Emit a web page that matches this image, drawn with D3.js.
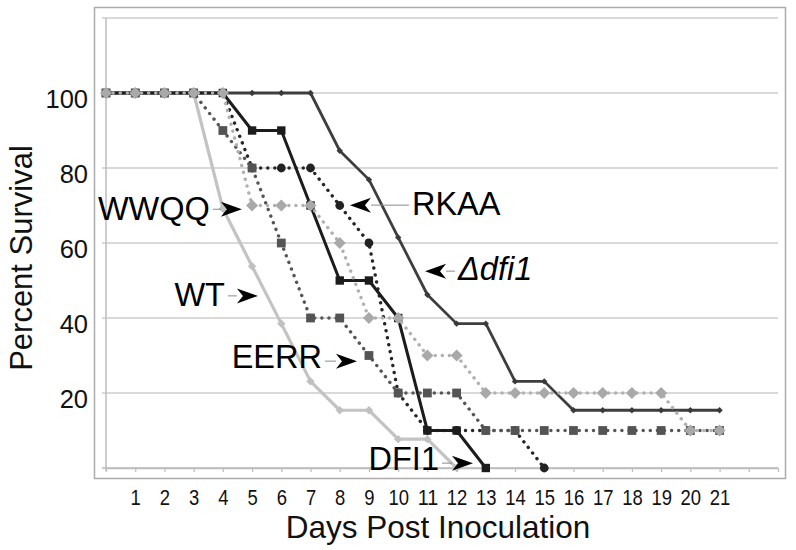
<!DOCTYPE html>
<html><head><meta charset="utf-8">
<script src="https://cdn.jsdelivr.net/npm/d3@7"></script>
<style>body{margin:0;background:#fff}svg{display:block}text{font-family:"Liberation Sans",Arial,sans-serif}</style>
</head><body><svg id="c" width="796" height="550"></svg>
<script>
// ---- data ----
const days = d3.range(0, 22);
const xTickLabels = ["1","2","3","4","5","6","7","8","9","10","11","12","13","14","15","16","17","18","19","20","21"];
const yTickValues = [20, 40, 60, 80, 100];
const gridValues = [0, 20, 40, 60, 80, 100, 120];
const wtValues   = [100,100,100,100,69.2,53.8,38.5,23.1,15.4,15.4,7.7,7.7,0];
const dfi1Delta  = [100,100,100,100,100,100,100,100,84.6,76.9,61.5,46.2,38.5,38.5,23.1,23.1,15.4,15.4,15.4,15.4,15.4,15.4];
const rkaaValues = [100,100,100,100,100,80,80,80,70,60,20,10,10,10,10,0];
const dfi1Values = [100,100,100,100,100,90,90,70,50,50,40,10,10,0];
const eerrValues = [100,100,100,100,90,80,60,40,40,30,20,20,20,10,10,10,10,10,10,10,10,10];
const wwqqValues = [100,100,100,100,100,70,70,70,60,40,40,30,30,20,20,20,20,20,20,20,10,10];

const series = [
  {name:"WT",    values:wtValues,   color:"#c3c3c3", mcolor:"#c0c0c0", width:3.2, dash:null,    marker:"diamond", r:4.2},
  {name:"dfi1",  values:dfi1Delta,  color:"#3e3e3e", mcolor:"#3a3a3a", width:2.8, dash:null,    marker:"diamond", r:3.2},
  {name:"RKAA",  values:rkaaValues, color:"#262626", mcolor:"#222222", width:3.4, dash:"0.1 7", marker:"circle",  r:4.4},
  {name:"DFI1",  values:dfi1Values, color:"#1c1c1c", mcolor:"#1c1c1c", width:3.0, dash:null,    marker:"square",  r:4.2},
  {name:"EERR",  values:eerrValues, color:"#565656", mcolor:"#545454", width:3.4, dash:"0.1 7", marker:"square",  r:4.4},
  {name:"WWQQ",  values:wwqqValues, color:"#b0b0b0", mcolor:"#a9a9a9", width:3.4, dash:"0.1 7", marker:"diamond", r:6.0}
];

const annotations = [
  {label:"WWQQ",  day:4.65,  value:69,   dir:"right", lead:8,  dy:11, italic:false},
  {label:"WT",    day:5.2,   value:45.9, dir:"right", lead:9,  dy:10, italic:false},
  {label:"EERR",  day:8.59,  value:28.5, dir:"right", lead:11, dy:7,  italic:false},
  {label:"DFI1",  day:12.56, value:1.3,  dir:"right", lead:10, dy:7,  italic:false},
  {label:"RKAA",  day:8.35,  value:70.1, dir:"left",  lead:38, dy:10, italic:false},
  {label:"\u0394dfi1", day:10.92, value:52.5, dir:"left", lead:9, dy:9, italic:true}
];

// ---- chart ----
const svg = d3.select("#c");
svg.append("rect").attr("width",796).attr("height",550).attr("fill","#fff");
const x = d3.scaleLinear().domain([0, 23]).range([106, 778]);
const y = d3.scaleLinear().domain([0, 120]).range([468, 18]);

// outer frame
svg.append("rect").attr("x",94.5).attr("y",7.5).attr("width",691).attr("height",471)
  .attr("fill","none").attr("stroke","#ababab").attr("stroke-width",1.5);

// gridlines
svg.append("g").selectAll("line").data(gridValues).join("line")
  .attr("x1",102).attr("x2",778).attr("y1",d=>y(d)).attr("y2",d=>y(d))
  .attr("stroke",d=>d===0?"#b8b8b8":"#cccccc").attr("stroke-width",1.5);

// y axis line
svg.append("line").attr("x1",x(0)).attr("x2",x(0)).attr("y1",y(120)).attr("y2",y(0)+3)
  .attr("stroke","#bdbdbd").attr("stroke-width",1.5);

// x axis
const xFont = 22.5;
const xAxis = svg.append("g").attr("transform",`translate(0,${y(0)})`)
  .call(d3.axisBottom(x).tickValues(d3.range(0,24)).tickSize(4).tickSizeOuter(0)
    .tickFormat(d => (d>=1 && d<=xTickLabels.length) ? xTickLabels[d-1] : ""));
xAxis.select(".domain").attr("stroke","#bdbdbd").attr("stroke-width",1.5);
xAxis.selectAll(".tick line").attr("stroke","#bdbdbd").attr("stroke-width",1.2);
xAxis.selectAll(".tick text").attr("y",36.5).attr("dy",null)
  .attr("font-size",xFont).attr("fill","#111")
  .attr("font-family","'Liberation Sans',Arial,sans-serif")
  .each(function(){
    const t = d3.select(this).text();
    if (t) d3.select(this).attr("textLength", t.length*0.556*xFont*0.82).attr("lengthAdjust","spacingAndGlyphs");
  });

// y axis labels
const yAxis = svg.append("g").attr("transform",`translate(${x(0)},0)`)
  .call(d3.axisLeft(y).tickValues(yTickValues).tickSize(0).tickFormat(d3.format("d")));
yAxis.select(".domain").remove();
yAxis.selectAll(".tick text").attr("x",-18).attr("dy",null).attr("y",14)
  .attr("font-size",25.5).attr("fill","#111").attr("font-family","'Liberation Sans',Arial,sans-serif");

// axis titles
svg.append("text").attr("transform","translate(32,258) rotate(-90)")
  .attr("text-anchor","middle").attr("font-size",31).attr("fill","#111").text("Percent Survival");
svg.append("text").attr("x",438).attr("y",538)
  .attr("text-anchor","middle").attr("font-size",31.5).attr("fill","#111").text("Days Post Inoculation");

// series
const line = d3.line().x((d,i)=>x(days[i])).y(d=>y(d));
function markerPath(type, r) {
  if (type === "diamond") return `M0,${-r}L${r},0L0,${r}L${-r},0Z`;
  if (type === "square") return `M${-r},${-r}H${r}V${r}H${-r}Z`;
  return `M${r},0A${r},${r} 0 1,1 ${-r},0A${r},${r} 0 1,1 ${r},0Z`;
}
series.forEach(s => {
  const g = svg.append("g");
  g.append("path").datum(s.values).attr("d",line).attr("fill","none")
    .attr("stroke",s.color).attr("stroke-width",s.width)
    .attr("stroke-linejoin","round").attr("stroke-linecap","round")
    .attr("stroke-dasharray",s.dash);
  g.selectAll("path.m").data(s.values).join("path").attr("class","m")
    .attr("transform",(d,i)=>`translate(${x(days[i])},${y(d)})`)
    .attr("d",markerPath(s.marker, s.r)).attr("fill",s.mcolor);
});

// annotations
const ah = 21, ahw = 7.5, notch = 6;
annotations.forEach(a => {
  const tx = x(a.day), ty = y(a.value);
  const s = a.dir === "right" ? 1 : -1;
  const back = tx - s*ah;
  const lineStart = back - s*a.lead;
  svg.append("line").attr("x1",lineStart).attr("x2",back).attr("y1",ty).attr("y2",ty)
    .attr("stroke","#8a8a8a").attr("stroke-width",1);
  svg.append("path")
    .attr("d",`M${tx},${ty} L${tx - s*ah},${ty-ahw} L${tx - s*(ah-notch)},${ty} L${tx - s*ah},${ty+ahw} Z`)
    .attr("fill","#000");
  svg.append("text").attr("x",lineStart - s*3).attr("y",ty + a.dy)
    .attr("text-anchor", a.dir === "right" ? "end" : "start")
    .attr("font-size",32.5).attr("font-style",a.italic?"italic":null).attr("fill","#000")
    .text(a.label);
});
</script></body></html>
